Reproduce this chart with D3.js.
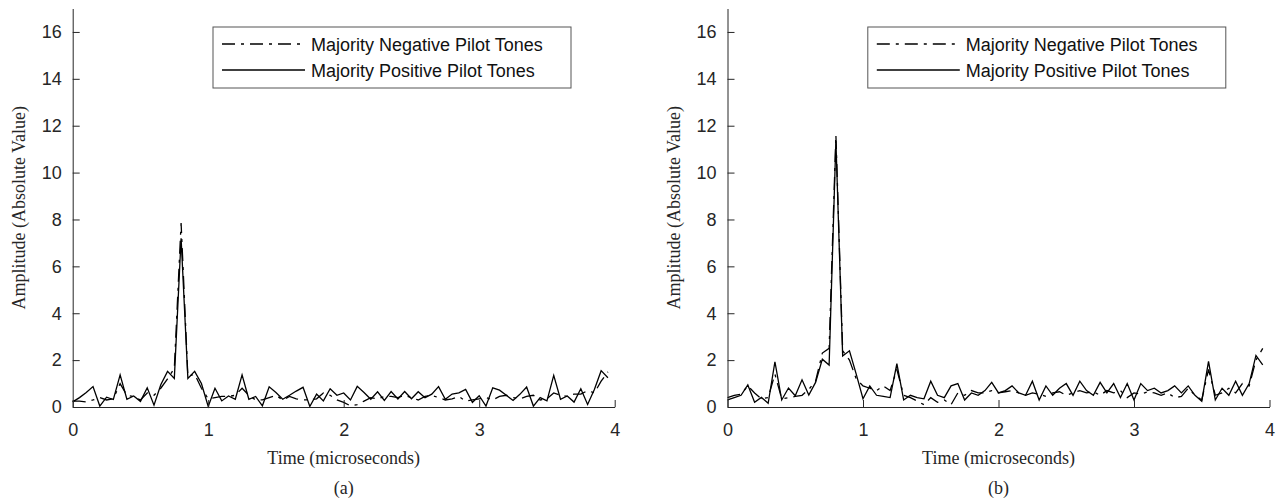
<!DOCTYPE html>
<html>
<head>
<meta charset="utf-8">
<script src="https://cdn.jsdelivr.net/npm/d3@7"></script>
<style>
  html, body { margin: 0; padding: 0; background: #fff; }
  svg { display: block; }
  .tick text { font-family: "Liberation Sans", Arial, sans-serif; font-size: 18px; fill: #262626; }
  .axis path, .axis line { stroke: #262626; stroke-width: 1; }
  .label { font-family: "Liberation Serif", "Times New Roman", serif; font-size: 18px; fill: #262626; }
  .legend text { font-family: "Liberation Sans", Arial, sans-serif; font-size: 18px; fill: #111; }
</style>
</head>
<body>
<svg id="chart" width="1282" height="502"></svg>
<script>
// Sample times (microseconds)
const timeUs = [
  0.00, 0.05, 0.10, 0.15, 0.20, 0.25, 0.30, 0.35, 0.40, 0.45,
  0.50, 0.55, 0.60, 0.65, 0.70, 0.75, 0.80, 0.85, 0.90, 0.95,
  1.00, 1.05, 1.10, 1.15, 1.20, 1.25, 1.30, 1.35, 1.40, 1.45,
  1.50, 1.55, 1.60, 1.65, 1.70, 1.75, 1.80, 1.85, 1.90, 1.95,
  2.00, 2.05, 2.10, 2.15, 2.20, 2.25, 2.30, 2.35, 2.40, 2.45,
  2.50, 2.55, 2.60, 2.65, 2.70, 2.75, 2.80, 2.85, 2.90, 2.95,
  3.00, 3.05, 3.10, 3.15, 3.20, 3.25, 3.30, 3.35, 3.40, 3.45,
  3.50, 3.55, 3.60, 3.65, 3.70, 3.75, 3.80, 3.85, 3.90, 3.95
];

// Panel (a)
const negativeA = [
  0.25, 0.25, 0.22, 0.30, 0.40, 0.30, 0.35, 1.00, 0.50, 0.45,
  0.30, 0.60, 0.50, 0.80, 1.20, 1.65, 7.85, 1.30, 1.40, 0.80,
  0.35, 0.40, 0.45, 0.45, 0.50, 0.80, 0.50, 0.30, 0.30, 0.40,
  0.50, 0.30, 0.45, 0.35, 0.30, 0.30, 0.35, 0.60, 0.50, 0.30,
  0.20, 0.05, 0.10, 0.25, 0.40, 0.35, 0.45, 0.45, 0.40, 0.50,
  0.40, 0.30, 0.45, 0.50, 0.40, 0.30, 0.35, 0.45, 0.25, 0.30,
  0.35, 0.40, 0.30, 0.45, 0.50, 0.40, 0.35, 0.45, 0.50, 0.30,
  0.35, 0.60, 0.50, 0.45, 0.55, 0.55, 0.70, 0.60, 1.10, 1.50
];
const positiveA = [
  0.22, 0.40, 0.62, 0.87, 0.04, 0.42, 0.32, 1.37, 0.33, 0.47,
  0.24, 0.82, 0.08, 0.95, 1.52, 1.22, 7.20, 1.22, 1.52, 1.00,
  0.02, 0.80, 0.26, 0.47, 0.33, 1.37, 0.33, 0.45, 0.05, 0.86,
  0.62, 0.33, 0.50, 0.68, 0.84, 0.02, 0.55, 0.26, 0.78, 0.50,
  0.60, 0.30, 0.88, 0.62, 0.33, 0.65, 0.28, 0.66, 0.34, 0.66,
  0.35, 0.65, 0.40, 0.55, 0.87, 0.33, 0.55, 0.60, 0.75, 0.20,
  0.48, 0.04, 0.82, 0.72, 0.50, 0.28, 0.54, 0.85, 0.04, 0.40,
  0.26, 1.35, 0.33, 0.47, 0.21, 0.78, 0.11, 0.75, 1.55, 1.25
];

// Panel (b)
const negativeB = [
  0.40, 0.50, 0.55, 0.90, 0.60, 0.35, 0.40, 1.40, 0.35, 0.40,
  0.45, 0.50, 0.75, 1.10, 2.30, 2.50, 11.60, 2.40, 2.00, 1.20,
  0.90, 0.80, 0.70, 0.90, 0.70, 1.60, 0.50, 0.40, 0.25, 0.10,
  0.40, 0.20, 0.30, 0.10, 0.60, 0.50, 0.70, 0.60, 0.60, 0.70,
  0.60, 0.65, 0.70, 0.60, 0.50, 0.60, 0.55, 0.45, 0.60, 0.65,
  0.50, 0.60, 0.70, 0.60, 0.65, 0.50, 0.70, 0.60, 0.70, 0.40,
  0.60, 0.55, 0.65, 0.60, 0.50, 0.60, 0.40, 0.45, 0.80, 0.50,
  0.30, 1.60, 0.50, 0.60, 0.80, 0.60, 1.00, 0.90, 2.00, 2.50
];
const positiveB = [
  0.30, 0.40, 0.50, 0.94, 0.20, 0.41, 0.16, 1.93, 0.30, 0.81,
  0.48, 1.16, 0.51, 1.05, 2.04, 1.79, 11.36, 2.18, 2.40, 1.40,
  0.35, 0.90, 0.50, 0.45, 0.40, 1.85, 0.30, 0.50, 0.40, 0.35,
  1.10, 0.50, 0.40, 0.90, 1.00, 0.30, 0.60, 0.50, 0.70, 1.05,
  0.60, 0.70, 0.90, 0.60, 0.50, 1.10, 0.30, 0.90, 0.50, 0.80,
  1.00, 0.50, 1.10, 0.70, 0.50, 1.05, 0.60, 1.00, 0.40, 1.00,
  0.30, 1.00, 0.70, 0.80, 0.60, 0.70, 0.90, 0.60, 0.90, 0.50,
  0.25, 1.95, 0.30, 0.80, 0.50, 1.10, 0.50, 1.00, 2.20, 1.80
];

const xTicks = [0, 1, 2, 3, 4];
const yTicks = [0, 2, 4, 6, 8, 10, 12, 14, 16];
const legendLabels = ["Majority Negative Pilot Tones", "Majority Positive Pilot Tones"];
const panelCaptions = ["(a)", "(b)"];

const svg = d3.select("#chart");
const plotW = 542, plotTop = 8.5, plotBottom = 407;
const dashDot = "13,6,3,6";

const panels = [
  { left: 72.7, neg: negativeA, pos: positiveA, caption: panelCaptions[0] },
  { left: 727.5, neg: negativeB, pos: positiveB, caption: panelCaptions[1] }
];

panels.forEach(p => {
  const g = svg.append("g");
  const x = d3.scaleLinear().domain([0, 4]).range([p.left, p.left + plotW]);
  const y = d3.scaleLinear().domain([0, 17]).range([plotBottom, plotTop]);

  const line = d3.line()
    .x((d, i) => x(timeUs[i]))
    .y(d => y(d));

  // data lines
  g.append("path").datum(p.neg)
    .attr("fill", "none").attr("stroke", "#000").attr("stroke-width", 1.3)
    .attr("stroke-dasharray", dashDot).attr("d", line);
  g.append("path").datum(p.pos)
    .attr("fill", "none").attr("stroke", "#000").attr("stroke-width", 1.3)
    .attr("d", line);

  // axes with inward ticks
  g.append("g").attr("class", "axis")
    .attr("transform", `translate(0,${plotBottom})`)
    .call(d3.axisBottom(x).tickValues(xTicks).tickFormat(d3.format("d"))
      .tickSizeInner(-7).tickSizeOuter(0).tickPadding(16));
  g.append("g").attr("class", "axis")
    .attr("transform", `translate(${p.left},0)`)
    .call(d3.axisLeft(y).tickValues(yTicks).tickFormat(d3.format("d"))
      .tickSizeInner(-7).tickSizeOuter(0).tickPadding(11));

  // axis titles and caption
  const cx = p.left + plotW / 2;
  g.append("text").attr("class", "label").attr("x", cx).attr("y", 464)
    .attr("text-anchor", "middle").text("Time (microseconds)");
  g.append("text").attr("class", "label").attr("x", cx).attr("y", 494)
    .attr("text-anchor", "middle").text(p.caption);
  g.append("text").attr("class", "label")
    .attr("transform", `translate(${p.left - 48},${(plotTop + plotBottom) / 2}) rotate(-90)`)
    .attr("text-anchor", "middle").text("Amplitude (Absolute Value)");

  // legend
  const lx = p.left + 140.3, ly = 27;
  const lg = g.append("g").attr("class", "legend");
  lg.append("rect").attr("x", lx).attr("y", ly).attr("width", 358).attr("height", 61)
    .attr("fill", "#fff").attr("stroke", "#555").attr("stroke-width", 1);
  legendLabels.forEach((label, i) => {
    const rowY = ly + 17 + i * 26;
    lg.append("line").attr("x1", lx + 9).attr("x2", lx + 92)
      .attr("y1", rowY).attr("y2", rowY)
      .attr("stroke", "#000").attr("stroke-width", 1.3)
      .attr("stroke-dasharray", i === 0 ? dashDot : null);
    lg.append("text").attr("x", lx + 98).attr("y", rowY + 6.5).text(label);
  });
});
</script>
</body>
</html>
